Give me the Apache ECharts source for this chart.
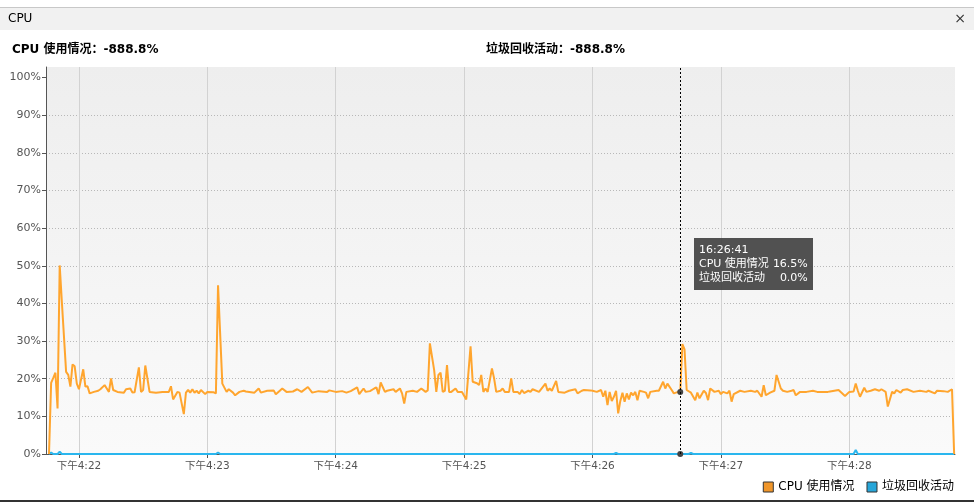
<!DOCTYPE html>
<html><head><meta charset="utf-8">
<script src="https://cdn.jsdelivr.net/npm/echarts@6/dist/echarts.min.js"></script>
<style>html,body{margin:0;padding:0;background:#fff;overflow:hidden}#c{width:974px;height:503px}</style>
</head><body><div id="c"></div>
<script>
// ---------- data ----------
const panelTitle = 'CPU';
const cpuName = 'CPU 使用情况';
const gcName = '垃圾回收活动';
const headerValue = '-888.8%';
const axisStart = '16:21:44.6';
const axisEnd = '16:28:49.4';
const tipTime = '16:26:41';
const yTicks = [0, 10, 20, 30, 40, 50, 60, 70, 80, 90, 100];

const cpuTimes = [
 '16:21:46','16:21:47','16:21:48','16:21:49','16:21:50','16:21:51','16:21:52','16:21:54','16:21:55','16:21:56',
 '16:21:57','16:21:58','16:21:59','16:22:00','16:22:02','16:22:03','16:22:04','16:22:05','16:22:07','16:22:09',
 '16:22:10','16:22:12','16:22:13','16:22:14','16:22:15','16:22:16','16:22:18','16:22:21','16:22:22','16:22:24',
 '16:22:25','16:22:26','16:22:28','16:22:29','16:22:30','16:22:31','16:22:33','16:22:36','16:22:39','16:22:42',
 '16:22:43','16:22:44','16:22:46','16:22:47','16:22:49','16:22:50','16:22:51','16:22:52','16:22:53','16:22:54',
 '16:22:55','16:22:56','16:22:57','16:22:59','16:23:00','16:23:03','16:23:04','16:23:05','16:23:07','16:23:09',
 '16:23:10','16:23:12','16:23:13','16:23:15','16:23:17','16:23:18','16:23:22','16:23:24','16:23:25','16:23:28',
 '16:23:31','16:23:32','16:23:34','16:23:35','16:23:37','16:23:40','16:23:42','16:23:44','16:23:47','16:23:49',
 '16:23:52','16:23:56','16:23:57','16:24:00','16:24:03','16:24:05','16:24:07','16:24:10','16:24:11','16:24:13',
 '16:24:14','16:24:16','16:24:18','16:24:19','16:24:20','16:24:21','16:24:23','16:24:24','16:24:27','16:24:28',
 '16:24:30','16:24:31','16:24:32','16:24:33','16:24:36','16:24:38','16:24:40','16:24:42','16:24:43','16:24:44',
 '16:24:46','16:24:47','16:24:48','16:24:49','16:24:50','16:24:51','16:24:52','16:24:53','16:24:54','16:24:56',
 '16:24:57','16:24:59','16:25:01','16:25:03','16:25:04','16:25:06','16:25:07','16:25:08','16:25:09','16:25:10',
 '16:25:11','16:25:13','16:25:14','16:25:15','16:25:17','16:25:18','16:25:19','16:25:21','16:25:22','16:25:23',
 '16:25:25','16:25:26','16:25:27','16:25:28','16:25:30','16:25:31','16:25:32','16:25:35','16:25:38','16:25:39',
 '16:25:40','16:25:41','16:25:43','16:25:44','16:25:47','16:25:49','16:25:52','16:25:53','16:25:55','16:25:56',
 '16:25:59','16:26:00','16:26:02','16:26:04','16:26:05','16:26:06','16:26:07','16:26:08','16:26:09','16:26:10',
 '16:26:11','16:26:12','16:26:13','16:26:14','16:26:15','16:26:16','16:26:17','16:26:18','16:26:19','16:26:20',
 '16:26:21','16:26:22','16:26:24','16:26:25','16:26:26','16:26:27','16:26:30','16:26:31','16:26:33','16:26:34',
 '16:26:35','16:26:37','16:26:38','16:26:40','16:26:41','16:26:42','16:26:43','16:26:44','16:26:46','16:26:48',
 '16:26:49','16:26:50','16:26:52','16:26:53','16:26:54','16:26:55','16:26:57','16:26:59','16:27:00','16:27:01',
 '16:27:03','16:27:04','16:27:05','16:27:06','16:27:09','16:27:11','16:27:14','16:27:16','16:27:17','16:27:19',
 '16:27:20','16:27:21','16:27:23','16:27:25','16:27:26','16:27:28','16:27:29','16:27:31','16:27:33','16:27:34',
 '16:27:35','16:27:37','16:27:40','16:27:43','16:27:45','16:27:50','16:27:51','16:27:55','16:27:58','16:28:00',
 '16:28:02','16:28:03','16:28:04','16:28:05','16:28:07','16:28:08','16:28:10','16:28:12','16:28:14','16:28:15',
 '16:28:17','16:28:18','16:28:20','16:28:21','16:28:22','16:28:24','16:28:25','16:28:27','16:28:30','16:28:33',
 '16:28:36','16:28:37','16:28:40','16:28:41','16:28:44','16:28:46','16:28:48','16:28:49'
];
const cpuValues = [
 0, 18.9, 20.2, 21.6, 12.1, 50.1, 40.5, 21.8, 21, 17.9,
 23.8, 23.3, 18.7, 17.2, 22.5, 17.9, 18, 16.1, 16.5, 16.8,
 17.2, 18.3, 17.4, 16.5, 20.1, 17, 16.5, 16.3, 17.2, 17.4,
 16.3, 16.4, 23, 16.5, 17, 23.5, 16.5, 16.3, 16.5, 16.5,
 18, 14.5, 16.5, 16.3, 10.6, 16.3, 17, 16.3, 17.2, 16.3,
 16.8, 16.1, 17, 15.9, 16.5, 16.4, 16.1, 44.8, 18.7, 16.5,
 17.2, 16.3, 15.6, 16.5, 16.8, 16.6, 16.3, 17.4, 16.3, 16.8,
 16.9, 15.9, 16.9, 17.4, 16.5, 16.6, 17.2, 16.5, 17.8, 16.3,
 16.7, 16.5, 16.9, 16.5, 16.7, 16.3, 16.7, 17.7, 15.9, 17.4,
 16.5, 16.7, 17.4, 17.7, 15.9, 19, 16.5, 16.8, 17.2, 16.5,
 17.4, 16.1, 13.4, 16.5, 16.8, 16.5, 17.4, 16.5, 16.9, 29.4,
 22.3, 16.5, 21, 21.6, 16.5, 16.8, 23.6, 16.5, 16.5, 17.4,
 16.5, 16.5, 14.5, 28.6, 19.2, 18.8, 18.3, 21, 16.5, 17.4,
 16.5, 22.7, 20.1, 16.5, 16.8, 17.4, 16.5, 16.5, 20.1, 16.5,
 16.5, 15.9, 17, 16.2, 16.8, 16.5, 17.2, 16.5, 18.7, 16.8,
 17.4, 16.8, 19.4, 16.5, 16.3, 16.8, 17.2, 16.1, 16.8, 17,
 16.9, 16.8, 16.5, 17, 15.2, 16.8, 13, 16.5, 14.1, 15.2,
 16.8, 10.8, 14.1, 16.3, 13.9, 16.1, 14.5, 16.3, 15.6, 16.5,
 14.3, 16.8, 16.5, 16.3, 14.8, 16.5, 16.8, 16.8, 19.2, 17.4,
 18.7, 17, 16.1, 16.5, 16.5, 29.2, 27.8, 17, 16.3, 14.3,
 16.3, 14.8, 16.8, 16.2, 14.3, 17.4, 16.5, 16.8, 15.9, 16.5,
 16.1, 16.8, 13.9, 15.9, 16.8, 16.5, 16.8, 16.5, 16.8, 15.2,
 18.3, 15.6, 16.3, 16.8, 21, 17.4, 16.8, 16.5, 16.8, 17,
 15.6, 16.5, 16.5, 16.8, 16.5, 16.5, 16.6, 17, 15.4, 16.5,
 16.6, 18.7, 16.8, 15.2, 17.6, 16.5, 16.8, 17.2, 16.8, 17.2,
 16.5, 12.6, 16.5, 16.1, 17, 16.3, 17, 17.2, 16.5, 16.8,
 16.5, 16.8, 16.1, 16.8, 16.7, 16.5, 17.2, 0
];

const gcTimes = ['16:21:46','16:21:47','16:21:48','16:21:50','16:21:51','16:21:52','16:23:04','16:23:05','16:23:06',
 '16:26:10','16:26:11','16:26:12','16:26:41','16:26:45','16:26:46','16:26:47','16:28:02','16:28:03','16:28:04','16:28:49'];
const gcValues = [0, 0.4, 0, 0, 0.6, 0, 0, 0.4, 0, 0, 0.3, 0, 0, 0, 0.3, 0, 0, 1.1, 0, 0];

// ---------- chart ----------
const FONT = "'DejaVu Sans','Noto Sans CJK SC',sans-serif";
const pad = n => String(n).padStart(2, '0');
function ts(t) {
  const p = t.split(':');
  const sec = parseFloat(p[2]);
  return new Date(2024, 0, 15, +p[0], +p[1], Math.floor(sec), Math.round((sec % 1) * 1000)).getTime();
}
const cpuData = cpuTimes.map((t, i) => [ts(t), cpuValues[i]]);
const gcData = gcTimes.map((t, i) => [ts(t), gcValues[i]]);
const tipIdx = cpuTimes.indexOf(tipTime);

const chart = echarts.init(document.getElementById('c'), null, {renderer: 'canvas'});
chart.setOption({
  animation: false,
  backgroundColor: '#fff',
  textStyle: {fontFamily: FONT},
  grid: {left: 46, right: 19, top: 67, bottom: 49, show: true, borderWidth: 0,
    backgroundColor: {type: 'linear', x: 0, y: 0, x2: 0, y2: 1,
      colorStops: [{offset: 0, color: '#eeeeee'}, {offset: 1, color: '#fafafa'}]}},
  graphic: [
    {type: 'rect', silent: true, shape: {x: 0, y: 7, width: 974, height: 1}, style: {fill: '#c8c8c8'}},
    {type: 'rect', silent: true, shape: {x: 0, y: 8, width: 974, height: 22}, style: {fill: '#f1f1f1'}},
    {type: 'text', silent: true, x: 8, y: 19, style: {text: panelTitle, font: '12px ' + FONT, fill: '#000', verticalAlign: 'middle'}},
    {type: 'text', silent: true, x: 960, y: 19, style: {text: '×', font: '14px ' + FONT, fill: '#333', align: 'center', verticalAlign: 'middle'}},
    {type: 'text', silent: true, x: 12, y: 50, style: {text: cpuName + '：' + headerValue, font: 'bold 12px ' + FONT, fill: '#000', verticalAlign: 'middle'}},
    {type: 'text', silent: true, x: 486, y: 50, style: {text: gcName + '：' + headerValue, font: 'bold 12px ' + FONT, fill: '#000', verticalAlign: 'middle'}},
    {type: 'rect', silent: true, shape: {x: 0, y: 500, width: 974, height: 2}, style: {fill: '#333'}}
  ],
  legend: {
    right: 15, top: 476, icon: 'rect', itemWidth: 10, itemHeight: 10, itemGap: 12,
    itemStyle: {borderColor: '#333', borderWidth: 1},
    textStyle: {fontSize: 12, color: '#000', fontFamily: FONT},
    data: [cpuName, gcName]
  },
  tooltip: {
    trigger: 'axis', triggerOn: 'none', alwaysShowContent: true, transitionDuration: 0,
    backgroundColor: 'rgba(68,68,68,0.93)', borderWidth: 0, padding: [5, 5],
    extraCssText: 'box-shadow:none;border-radius:0;',
    textStyle: {color: '#fff', fontSize: 11, fontFamily: FONT},
    position: point => [point[0] + 14, 238],
    axisPointer: {type: 'line', snap: true, label: {show: false},
      lineStyle: {color: '#000', type: [2, 2], width: 1}},
    formatter: params => {
      const d = new Date(params[0].value[0]);
      const t = pad(d.getHours()) + ':' + pad(d.getMinutes()) + ':' + pad(d.getSeconds());
      let h = '<div style="line-height:14px">' + t + '</div><table style="border-collapse:collapse;line-height:14px;font-size:11px;color:#fff">';
      params.forEach(p => {
        h += '<tr><td style="padding:0">' + p.seriesName + '</td><td style="padding:0 0 0 4px;text-align:right">' + p.value[1].toFixed(1) + '%</td></tr>';
      });
      return h + '</table>';
    }
  },
  xAxis: {
    type: 'time', min: ts(axisStart), max: ts(axisEnd),
    minInterval: 60000, maxInterval: 60000,
    axisLine: {lineStyle: {color: '#555'}},
    axisTick: {length: 4, lineStyle: {color: '#555'}},
    axisLabel: {color: '#555', fontSize: 10.5, fontFamily: FONT, margin: 7, showMinLabel: false, showMaxLabel: false,
      formatter: v => { const d = new Date(v); const hr = d.getHours(); return (hr < 12 ? '上午' : '下午') + (hr % 12 || 12) + ':' + pad(d.getMinutes()); }},
    splitLine: {show: true, showMinLine: false, showMaxLine: false, lineStyle: {color: '#d2d2d2', width: 1}}
  },
  yAxis: {
    type: 'value', min: 0, max: 102.8, interval: 10,
    axisLine: {show: true, lineStyle: {color: '#555'}},
    axisTick: {show: true, length: 4, customValues: yTicks, lineStyle: {color: '#555'}},
    axisLabel: {customValues: yTicks, formatter: '{value}%', color: '#555', fontSize: 11, fontFamily: FONT, margin: 5},
    splitLine: {show: true, showMaxLine: false, lineStyle: {type: [1, 2], color: '#b8b8b8'}}
  },
  series: [
    {name: cpuName, type: 'line', data: cpuData, showSymbol: false, symbol: 'circle', symbolSize: 6,
      color: '#f0962a', lineStyle: {width: 2, color: '#f0962a'}, z: 4,
      emphasis: {scale: false, focus: 'none', itemStyle: {color: '#444', borderColor: '#444', borderWidth: 0}, lineStyle: {width: 2}}},
    {name: gcName, type: 'line', data: gcData, showSymbol: false, symbol: 'circle', symbolSize: 6,
      color: '#27a6d9', lineStyle: {width: 2, color: '#27a6d9'}, z: 3,
      emphasis: {scale: false, focus: 'none', itemStyle: {color: '#444', borderColor: '#444', borderWidth: 0}, lineStyle: {width: 2}}}
  ]
});
chart.dispatchAction({type: 'showTip', seriesIndex: 0, dataIndex: tipIdx});
</script>
</body></html>
